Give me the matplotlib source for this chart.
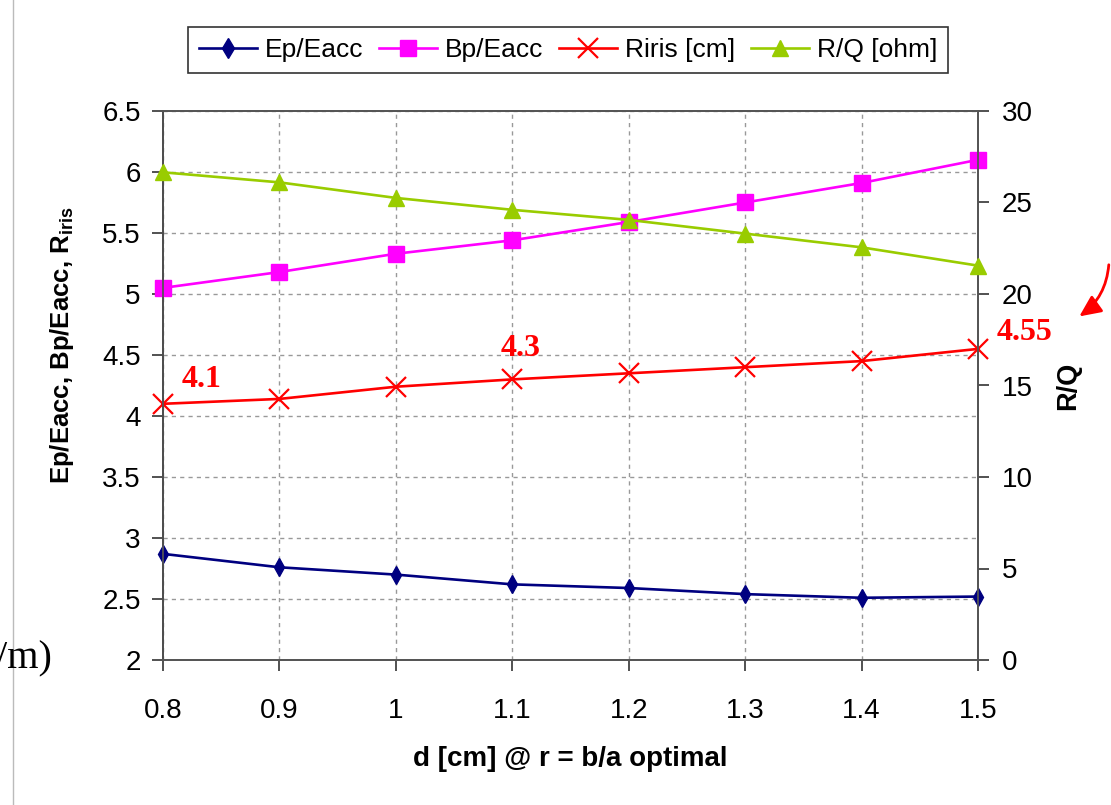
import matplotlib
matplotlib.use("Agg")
import matplotlib.pyplot as plt
from matplotlib.patches import FancyArrowPatch
from matplotlib.lines import Line2D

# Cavity geometry scan: iris thickness d at optimal b/a ratio
d_cm = [0.8, 0.9, 1.0, 1.1, 1.2, 1.3, 1.4, 1.5]
ep_eacc = [2.87, 2.76, 2.70, 2.62, 2.59, 2.54, 2.51, 2.52]
bp_eacc = [5.05, 5.18, 5.33, 5.44, 5.59, 5.75, 5.91, 6.10]
r_iris = [4.10, 4.14, 4.24, 4.30, 4.35, 4.40, 4.45, 4.55]
r_over_q = [26.65, 26.1, 25.25, 24.6, 24.05, 23.3, 22.55, 21.55]

left_ticks = [2, 2.5, 3, 3.5, 4, 4.5, 5, 5.5, 6, 6.5]
right_ticks = [0, 5, 10, 15, 20, 25, 30]
x_ticks = [0.8, 0.9, 1, 1.1, 1.2, 1.3, 1.4, 1.5]

# labelled radius values: (index, text, offset in pixels)
r_labels = [(0, "4.1", (19, 17)), (3, "4.3", (-12, 23)), (7, "4.55", (19, 9))]

plt.rcParams["font.family"] = ["Liberation Sans", "DejaVu Sans"]
plt.rcParams["mathtext.fontset"] = "custom"
plt.rcParams["mathtext.rm"] = "Liberation Sans:bold"

W, H = 1111, 805
fig = plt.figure(figsize=(W / 100, H / 100), dpi=100)
ax = fig.add_axes([163 / W, 1 - 660 / H, (978 - 163) / W, (660 - 111) / H])
ax2 = ax.twinx()

c_ep, c_bp, c_r, c_q = "#000080", "#FF00FF", "#FF0000", "#99CC00"
lw = 1.9

ax.plot(d_cm, ep_eacc, color=c_ep, lw=lw, marker="d", ms=9, clip_on=False, zorder=5)
ax.plot(d_cm, bp_eacc, color=c_bp, lw=lw, marker="s", ms=11, clip_on=False, zorder=5)
ax.plot(d_cm, r_iris, color=c_r, lw=lw, marker="x", ms=15, mew=1.6, clip_on=False, zorder=5)
ax2.plot(d_cm, r_over_q, color=c_q, lw=lw, marker="^", ms=12, clip_on=False, zorder=5)

ax.set_xlim(0.8, 1.5)
ax.set_ylim(2, 6.5)
ax2.set_ylim(0, 30)
ax.set_xticks(x_ticks)
ax.set_xticklabels(["0.8", "0.9", "1", "1.1", "1.2", "1.3", "1.4", "1.5"])
ax.set_yticks(left_ticks)
ax.set_yticklabels(["2", "2.5", "3", "3.5", "4", "4.5", "5", "5.5", "6", "6.5"])
ax2.set_yticks(right_ticks)

ax.grid(True, color="#999999", linestyle=(0, (3, 3)), lw=1.0)
ax.set_axisbelow(True)

for a in (ax, ax2):
    for s in a.spines.values():
        s.set_color("#555555")
        s.set_linewidth(1.3)
ax.spines["left"].set_color("#000000")

ax.tick_params(axis="x", direction="out", length=8, width=1.2, color="#333333",
               labelsize=20, pad=19)
ax.tick_params(axis="y", direction="out", length=8, width=1.2, color="#333333",
               labelsize=20, pad=8)
ax2.tick_params(axis="y", direction="out", length=8, width=1.2, color="#333333",
                labelsize=20, pad=9)

ax.set_xlabel("d [cm] @ r = b/a optimal", fontsize=20, fontweight="bold", labelpad=16)
ax.set_ylabel(r"Ep/Eacc, Bp/Eacc, R$_{\mathrm{iris}}$", fontsize=18.5,
              fontweight="bold")
ax.yaxis.set_label_coords(-87 / 815, (660 - 345) / 549)
ax2.set_ylabel("R/Q", fontsize=19.5, fontweight="bold", labelpad=16)

for i, txt, off in r_labels:
    ax.annotate(txt, (d_cm[i], r_iris[i]), xytext=off, textcoords="offset pixels",
                ha="left", va="baseline", color=c_r, fontsize=23, fontweight="bold",
                family="Liberation Serif", annotation_clip=False, zorder=6)

handles = [
    Line2D([], [], color=c_ep, lw=lw, marker="d", ms=10),
    Line2D([], [], color=c_bp, lw=lw, marker="s", ms=11),
    Line2D([], [], color=c_r, lw=lw, marker="x", ms=15, mew=1.6),
    Line2D([], [], color=c_q, lw=lw, marker="^", ms=12),
]
labels = ["Ep/Eacc", "Bp/Eacc", "Riris [cm]", "R/Q [ohm]"]
leg = fig.legend(handles, labels, loc="center", bbox_to_anchor=(568 / W, 1 - 50 / H),
                 ncol=4, fontsize=19, frameon=True, fancybox=False, edgecolor="#000000",
                 handlelength=2.2, handletextpad=0.3, columnspacing=0.6,
                 borderpad=0.4, borderaxespad=0)
leg.get_frame().set_linewidth(1.2)

# slide elements around the chart
fig.add_artist(Line2D([13 / W, 13 / W], [0, 1], color="#bbbbbb", lw=1.0))
fig.text(-4 / W, 1 - 668 / H, "/m)", family="Liberation Serif", fontsize=29,
         ha="left", va="baseline")
arrow = FancyArrowPatch((1109 / W, 1 - 262 / H), (1077 / W, 1 - 318 / H),
                        transform=fig.transFigure, connectionstyle="arc3,rad=-0.25",
                        arrowstyle="-|>,head_length=13,head_width=6", color=c_r,
                        lw=2.0, mutation_scale=1)
fig.add_artist(arrow)

fig.savefig("out.png", dpi=100)
